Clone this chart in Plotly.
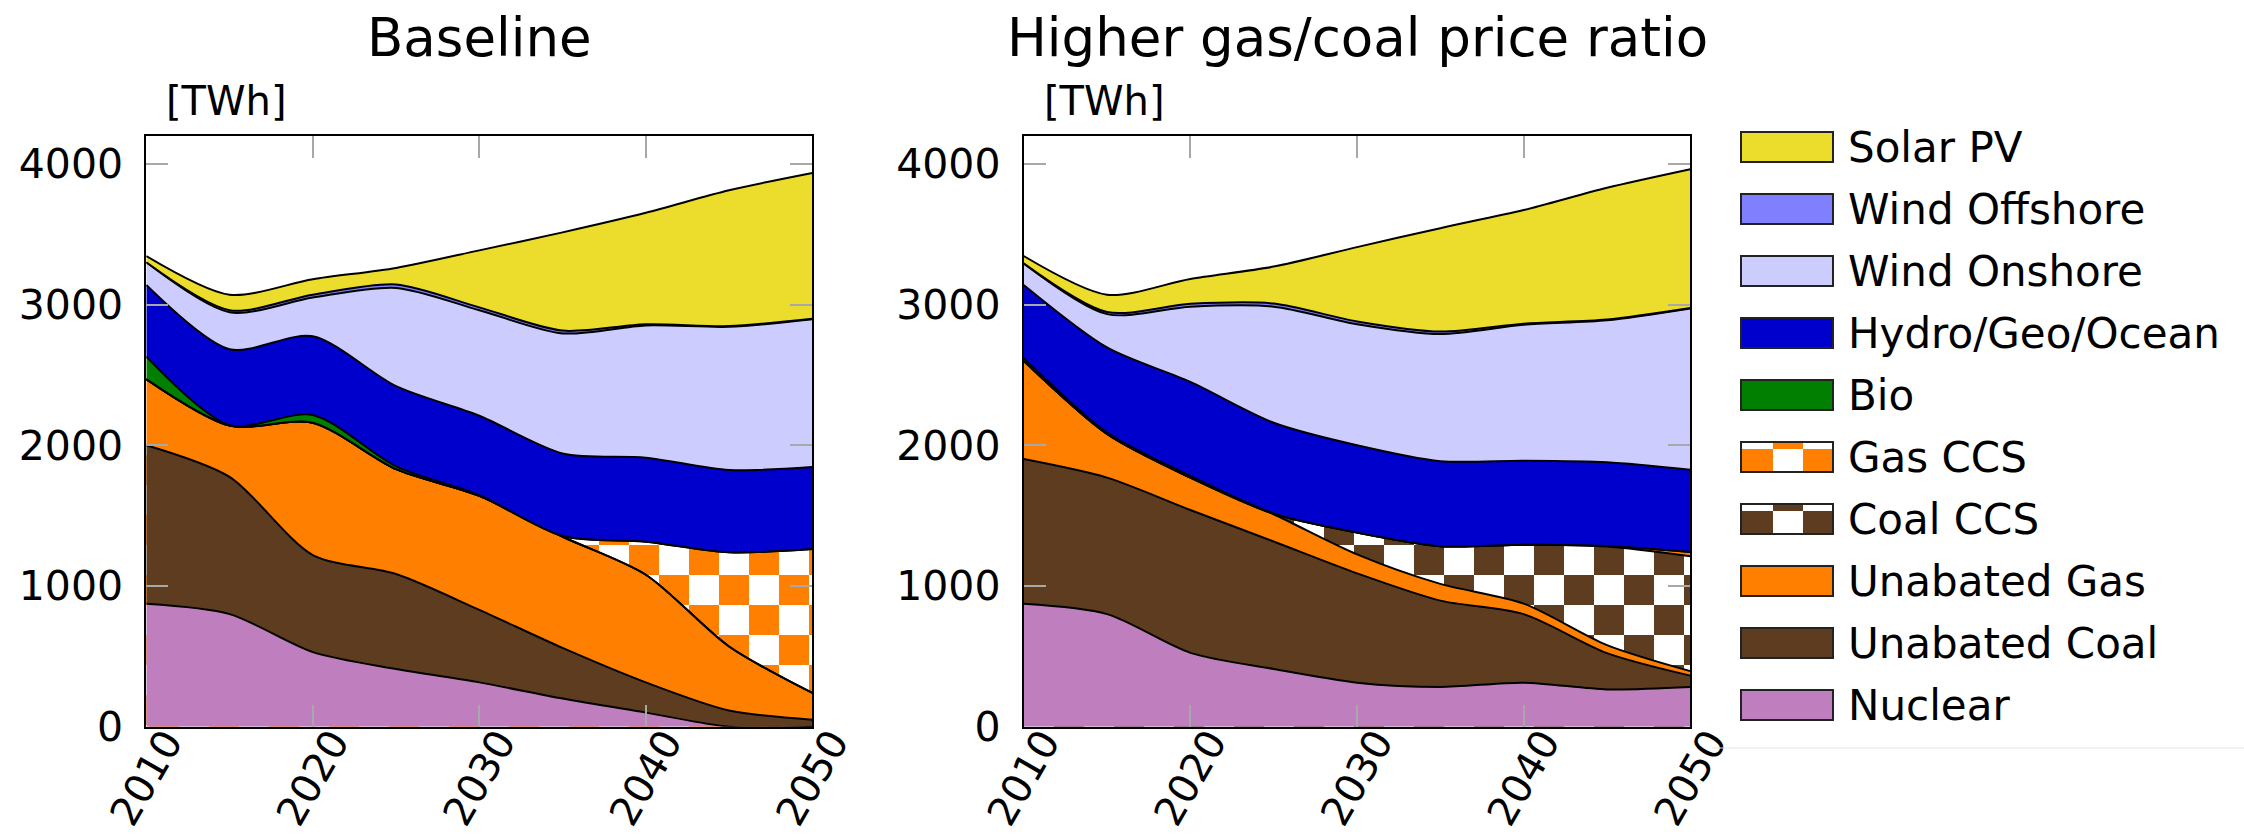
import plotly.graph_objects as go

W, H = 2244, 836
FONT = "DejaVu Sans"

years = [2010, 2015, 2020, 2025, 2030, 2035, 2040, 2045, 2050]

# Electricity generation by source [TWh] - Baseline
base_nuclear = [873, 800, 530, 410, 315, 200, 100, 0, 0]
base_coal = [1127, 975, 690, 675, 515, 360, 215, 115, 50]
base_gas = [470, 365, 940, 745, 810, 790, 765, 455, 190]
base_coal_ccs = [0, 0, 0, 0, 0, 0, 0, 0, 0]
base_gas_ccs = [0, 0, 0, 0, 0, 5, 235, 670, 1022]
base_bio = [160, 3, 55, 20, 5, 0, 0, 0, 0]
base_hydro = [510, 540, 560, 570, 565, 587, 597, 585, 583]
base_onshore = [160, 262, 275, 698, 750, 853, 940, 1017, 1051]
base_offshore = [0, 15, 20, 25, 20, 20, 8, 5, 3]
base_solar = [45, 110, 110, 117, 405, 698, 792, 965, 1036]

# Electricity generation by source [TWh] - Higher gas/coal price ratio
high_nuclear = [873, 800, 525, 410, 313, 282, 313, 265, 282]
high_coal = [1029, 970, 1015, 906, 777, 614, 487, 258, 81]
high_gas = [698, 310, 230, 194, 135, 119, 75, 57, 32]
high_coal_ccs = [0, 0, 0, 3, 155, 268, 418, 700, 817]
high_gas_ccs = [0, 0, 0, 0, 0, 0, 0, 5, 30]
high_bio = [20, 10, 12, 3, 0, 0, 0, 0, 0]
high_hydro = [519, 605, 668, 644, 620, 604, 597, 594, 584]
high_onshore = [154, 237, 535, 825, 860, 903, 966, 1009, 1146]
high_offshore = [0, 15, 20, 22, 20, 18, 8, 5, 3]
high_solar = [52, 123, 177, 263, 528, 735, 808, 937, 987]

sources = ["Nuclear", "Unabated Coal", "Unabated Gas", "Coal CCS", "Gas CCS",
           "Bio", "Hydro/Geo/Ocean", "Wind Onshore", "Wind Offshore", "Solar PV"]
colors = {
    "Nuclear": "#BF7FBF",
    "Unabated Coal": "#5E3C20",
    "Unabated Gas": "#FF8000",
    "Coal CCS": "#5E3C20",
    "Gas CCS": "#FF8000",
    "Bio": "#007F00",
    "Hydro/Geo/Ocean": "#0000CC",
    "Wind Onshore": "#CCCCFF",
    "Wind Offshore": "#8080FF",
    "Solar PV": "#ECDC2C",
}

baseline = [base_nuclear, base_coal, base_gas, base_coal_ccs, base_gas_ccs,
            base_bio, base_hydro, base_onshore, base_offshore, base_solar]
higher = [high_nuclear, high_coal, high_gas, high_coal_ccs, high_gas_ccs,
          high_bio, high_hydro, high_onshore, high_offshore, high_solar]

# plot-area geometry in pixels
PLOT_TOP, PLOT_BOTTOM = 135.7, 726.7
PANELS = [
    dict(left=146.3, right=812.3, xa="x", ya="y", data=baseline,
         title="Baseline", checker="Gas CCS", sliver=3.3, parity=0),
    dict(left=1023.7, right=1690.3, xa="x2", ya="y2", data=higher,
         title="Higher gas/coal price ratio", checker="Coal CCS", sliver=6.2, parity=1),
]
X0, X1 = 2010, 2050
Y0, Y1 = 0, 4200
CELL = 30  # checker cell size in px


def px(x):
    return x / W


def py(y):
    return 1 - y / H


fig = go.Figure()

for i, p in enumerate(PANELS):
    width_px = p["right"] - p["left"]
    height_px = PLOT_BOTTOM - PLOT_TOP
    yr_per_px = (X1 - X0) / width_px
    twh_per_px = (Y1 - Y0) / height_px

    # checkerboard underlay, visible only through the transparent CCS band
    ncol = int(width_px // CELL) + 2
    nrow = 9
    x_edges = [X1 - (p["sliver"] + CELL * c) * yr_per_px for c in range(ncol, -2, -1)]
    y_edges = [(1.6 + CELL * r) * twh_per_px for r in range(-1, nrow + 1)]
    z = []
    for r in range(-1, nrow):
        row = []
        for c in range(ncol - 1, -2, -1):
            row.append(1 if (c + r + p["parity"]) % 2 == 0 else 0)
        z.append(row)
    fig.add_trace(go.Heatmap(
        x=x_edges, y=y_edges, z=z, zmin=0, zmax=1,
        colorscale=[[0, "white"], [1, colors[p["checker"]]]],
        showscale=False, hoverinfo="skip", xaxis=p["xa"], yaxis=p["ya"],
    ))

    for name, vals in zip(sources, p["data"]):
        fill = colors[name]
        if name == p["checker"]:
            fill = "rgba(0,0,0,0)"
        fig.add_trace(go.Scatter(
            x=years, y=vals, name=name, stackgroup=f"s{i}",
            mode="lines", line=dict(color="black", width=2, shape="spline", smoothing=0.8),
            fillcolor=fill, showlegend=False, hoverinfo="skip",
            xaxis=p["xa"], yaxis=p["ya"],
        ))

    # panel title and unit label
    fig.add_annotation(x=px((p["left"] + p["right"]) / 2), y=py(38), xref="paper", yref="paper",
                       text=p["title"], showarrow=False, xanchor="center", yanchor="middle",
                       font=dict(family=FONT, size=53, color="black"))
    fig.add_annotation(x=px(p["left"] + 18), y=py(101), xref="paper", yref="paper",
                       text="[TWh]", showarrow=False, xanchor="left", yanchor="middle",
                       font=dict(family=FONT, size=40, color="black"))

axis_common = dict(
    showline=True, linecolor="black", linewidth=2, mirror="ticks",
    ticks="inside", ticklen=22, tickwidth=1.5, tickcolor="#A8A8A8",
    showgrid=False, zeroline=False, automargin=False,
    tickfont=dict(family=FONT, size=41, color="black"),
)
ydom = [py(PLOT_BOTTOM), py(PLOT_TOP)]
layout_axes = {}
for i, p in enumerate(PANELS):
    sx = "" if i == 0 else str(i + 1)
    layout_axes[f"xaxis{sx}"] = dict(
        axis_common, domain=[px(p["left"]), px(p["right"])], range=[X0, X1],
        tickvals=[2010, 2020, 2030, 2040, 2050], tickangle=-60,
        tickfont=dict(family=FONT, size=40, color="black"),
        ticklabelstandoff=-26, ticklabelshift=20, anchor=f"y{sx}",
    )
    layout_axes[f"yaxis{sx}"] = dict(
        axis_common, domain=ydom, range=[Y0, Y1],
        tickvals=[0, 1000, 2000, 3000, 4000], ticklabelstandoff=13,
        anchor=f"x{sx}",
    )

# legend drawn as boxes and labels
legend_order = list(reversed(sources))
shapes = []
BOX_L, BOX_R, BOX_H = 1741, 1833, 30
ROW0, ROW_STEP = 147, 62
for k, name in enumerate(legend_order):
    cy = ROW0 + ROW_STEP * k
    top, bot = cy - BOX_H / 2, cy + BOX_H / 2
    if name in ("Gas CCS", "Coal CCS"):
        shapes.append(dict(type="rect", xref="paper", yref="paper",
                           x0=px(BOX_L), x1=px(BOX_R), y0=py(bot), y1=py(top),
                           fillcolor="white", line=dict(width=0)))
        split = top + 7
        cols = [(BOX_L, BOX_L + 32), (BOX_L + 32, BOX_L + 62), (BOX_L + 62, BOX_R)]
        for ci, (a, b) in enumerate(cols):
            for ri, (u, v) in enumerate([(top, split), (split, bot)]):
                if (ci + ri) % 2 == 1:
                    shapes.append(dict(type="rect", xref="paper", yref="paper",
                                       x0=px(a), x1=px(b), y0=py(v), y1=py(u),
                                       fillcolor=colors[name], line=dict(width=0)))
        shapes.append(dict(type="rect", xref="paper", yref="paper",
                           x0=px(BOX_L), x1=px(BOX_R), y0=py(bot), y1=py(top),
                           fillcolor="rgba(0,0,0,0)", line=dict(color="#222", width=2)))
    else:
        shapes.append(dict(type="rect", xref="paper", yref="paper",
                           x0=px(BOX_L), x1=px(BOX_R), y0=py(bot), y1=py(top),
                           fillcolor=colors[name], line=dict(color="#222", width=2)))
    fig.add_annotation(x=px(1846), y=py(cy), xref="paper", yref="paper", text=name,
                       showarrow=False, xanchor="left", yanchor="middle",
                       font=dict(family=FONT, size=42, color="black"))

shapes.append(dict(type="line", xref="paper", yref="paper", x0=px(1712), x1=1,
                   y0=py(748), y1=py(748), line=dict(color="#E4E4E4", width=1)))

fig.update_layout(
    template="none",
    width=W, height=H, margin=dict(l=0, r=0, t=0, b=0, autoexpand=False),
    paper_bgcolor="white", plot_bgcolor="white",
    showlegend=False, shapes=shapes, **layout_axes,
)

fig.write_html("out.html")
